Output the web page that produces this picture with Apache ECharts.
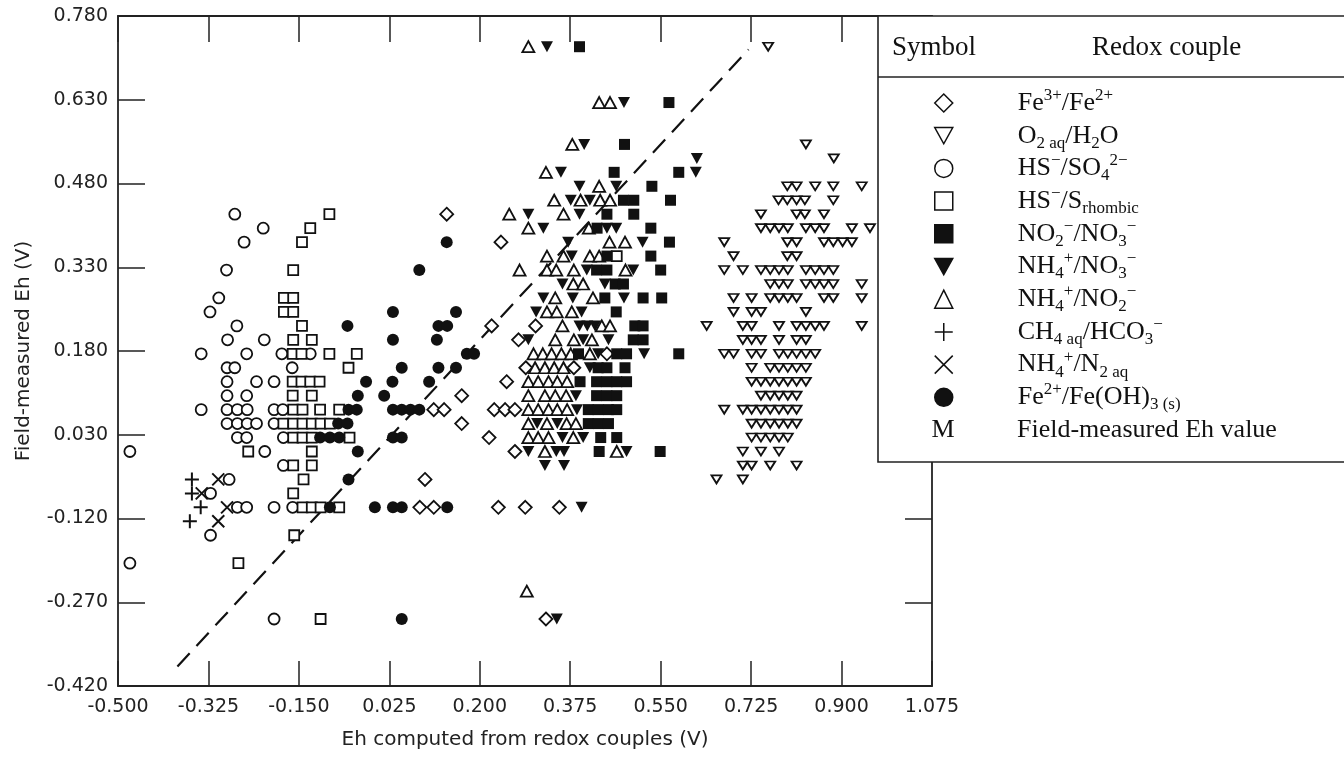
<!DOCTYPE html>
<html>
<head>
<meta charset="utf-8">
<title>Field-measured Eh vs computed Eh</title>
<script src="https://cdn.jsdelivr.net/npm/echarts/dist/echarts.min.js"></script>
<style>
  html, body { margin: 0; padding: 0; background: #fff; }
  #main { width: 1344px; height: 760px; }
</style>
</head>
<body>
<div id="main"></div>
<script>
// axis ranges (V)
var xMin = -0.5, xMax = 1.075, xStep = 0.175
var yMin = -0.42, yMax = 0.78, yStep = 0.15

// 1:1 line
var oneToOne = [[-0.385, -0.385], [0.72, 0.72]]

// Fe3+/Fe2+  (open diamond)
var fe3Fe2 = [[0.136,0.425],[0.241,0.375],[0.223,0.225],[0.308,0.225],[0.275,0.2],[0.446,0.175],[0.289,0.15],[0.382,0.15],
  [0.252,0.125],[0.165,0.1],[0.111,0.075],[0.131,0.075],[0.228,0.075],[0.249,0.075],[0.268,0.075],[0.165,0.05],[0.218,0.025],
  [0.268,0],[0.094,-0.05],[0.084,-0.1],[0.111,-0.1],[0.236,-0.1],[0.288,-0.1],[0.354,-0.1],[0.328,-0.3]]

// O2 aq/H2O  (small open down triangle)
var o2H2o = [[0.758,0.725],[0.831,0.55],[0.885,0.525],
  [0.795,0.475],[0.813,0.475],[0.849,0.475],[0.884,0.475],[0.939,0.475],
  [0.778,0.45],[0.795,0.45],[0.813,0.45],[0.829,0.45],[0.884,0.45],
  [0.744,0.425],[0.813,0.425],[0.829,0.425],[0.866,0.425],
  [0.744,0.4],[0.762,0.4],[0.779,0.4],[0.796,0.4],[0.831,0.4],[0.849,0.4],[0.866,0.4],[0.92,0.4],[0.955,0.4],
  [0.673,0.375],[0.795,0.375],[0.813,0.375],[0.866,0.375],[0.884,0.375],[0.902,0.375],[0.92,0.375],
  [0.691,0.35],[0.795,0.35],[0.813,0.35],
  [0.673,0.325],[0.709,0.325],[0.744,0.325],[0.762,0.325],[0.779,0.325],[0.796,0.325],[0.831,0.325],[0.849,0.325],[0.866,0.325],[0.884,0.325],
  [0.762,0.3],[0.779,0.3],[0.796,0.3],[0.831,0.3],[0.849,0.3],[0.866,0.3],[0.884,0.3],[0.939,0.3],
  [0.691,0.275],[0.726,0.275],[0.762,0.275],[0.779,0.275],[0.796,0.275],[0.813,0.275],[0.866,0.275],[0.884,0.275],[0.939,0.275],
  [0.691,0.25],[0.726,0.25],[0.744,0.25],[0.831,0.25],
  [0.639,0.225],[0.709,0.225],[0.726,0.225],[0.779,0.225],[0.813,0.225],[0.831,0.225],[0.849,0.225],[0.866,0.225],[0.939,0.225],
  [0.709,0.2],[0.726,0.2],[0.744,0.2],[0.779,0.2],[0.813,0.2],[0.831,0.2],
  [0.673,0.175],[0.691,0.175],[0.726,0.175],[0.744,0.175],[0.779,0.175],[0.796,0.175],[0.813,0.175],[0.831,0.175],[0.849,0.175],
  [0.726,0.15],[0.762,0.15],[0.779,0.15],[0.796,0.15],[0.813,0.15],[0.831,0.15],
  [0.726,0.125],[0.744,0.125],[0.762,0.125],[0.779,0.125],[0.796,0.125],[0.813,0.125],[0.831,0.125],
  [0.744,0.1],[0.762,0.1],[0.779,0.1],[0.796,0.1],[0.813,0.1],
  [0.673,0.075],[0.709,0.075],[0.726,0.075],[0.744,0.075],[0.762,0.075],[0.779,0.075],[0.796,0.075],[0.813,0.075],
  [0.726,0.05],[0.744,0.05],[0.762,0.05],[0.779,0.05],[0.796,0.05],[0.813,0.05],
  [0.726,0.025],[0.744,0.025],[0.762,0.025],[0.779,0.025],[0.796,0.025],
  [0.709,0],[0.744,0],[0.779,0],
  [0.709,-0.025],[0.726,-0.025],[0.762,-0.025],[0.813,-0.025],
  [0.658,-0.05],[0.709,-0.05]]

// HS-/SO4 2-  (open circle)
var hsSo4 = [[-0.274,0.425],[-0.219,0.4],[-0.256,0.375],[-0.29,0.325],[-0.305,0.275],[-0.322,0.25],[-0.27,0.225],[-0.288,0.2],[-0.217,0.2],
  [-0.339,0.175],[-0.251,0.175],[-0.183,0.175],[-0.128,0.175],
  [-0.289,0.15],[-0.274,0.15],[-0.163,0.15],
  [-0.289,0.125],[-0.232,0.125],[-0.198,0.125],
  [-0.289,0.1],[-0.251,0.1],
  [-0.339,0.075],[-0.289,0.075],[-0.269,0.075],[-0.25,0.075],[-0.198,0.075],[-0.181,0.075],
  [-0.289,0.05],[-0.269,0.05],[-0.25,0.05],[-0.232,0.05],[-0.198,0.05],
  [-0.269,0.025],[-0.251,0.025],[-0.18,0.025],
  [-0.477,0],[-0.216,0],[-0.18,-0.025],[-0.285,-0.05],[-0.321,-0.075],
  [-0.269,-0.1],[-0.251,-0.1],[-0.198,-0.1],[-0.162,-0.1],
  [-0.321,-0.15],[-0.477,-0.2],[-0.198,-0.3]]

// HS-/S rhombic  (open square)
var hsS = [[-0.091,0.425],[-0.128,0.4],[-0.144,0.375],[-0.161,0.325],[-0.179,0.275],[-0.161,0.275],[-0.179,0.25],[-0.161,0.25],
  [-0.144,0.225],[-0.161,0.2],[-0.125,0.2],
  [-0.162,0.175],[-0.145,0.175],[-0.091,0.175],[-0.038,0.175],[-0.054,0.15],
  [-0.162,0.125],[-0.145,0.125],[-0.128,0.125],[-0.11,0.125],
  [-0.162,0.1],[-0.125,0.1],
  [-0.161,0.075],[-0.143,0.075],[-0.109,0.075],[-0.072,0.075],
  [-0.18,0.05],[-0.161,0.05],[-0.143,0.05],[-0.125,0.05],[-0.108,0.05],[-0.09,0.05],
  [-0.161,0.025],[-0.143,0.025],[-0.125,0.025],[-0.052,0.025],
  [-0.248,0],[-0.125,0],[-0.161,-0.025],[-0.125,-0.025],[-0.141,-0.05],[-0.161,-0.075],
  [-0.143,-0.1],[-0.125,-0.1],[-0.108,-0.1],[-0.072,-0.1],
  [-0.159,-0.15],[-0.267,-0.2],[-0.108,-0.3],[0.465,0.35]]

// NO2-/NO3-  (filled square)
var no2No3 = [[0.393,0.725],[0.566,0.625],[0.48,0.55],[0.46,0.5],[0.585,0.5],[0.533,0.475],[0.478,0.45],[0.498,0.45],[0.569,0.45],
  [0.446,0.425],[0.498,0.425],[0.427,0.4],[0.531,0.4],[0.567,0.375],[0.446,0.35],[0.531,0.35],[0.426,0.325],[0.446,0.325],[0.55,0.325],
  [0.462,0.3],[0.478,0.3],[0.442,0.275],[0.516,0.275],[0.552,0.275],[0.464,0.25],[0.5,0.225],[0.516,0.225],[0.497,0.2],[0.516,0.2],
  [0.391,0.175],[0.465,0.175],[0.484,0.175],[0.585,0.175],[0.429,0.15],[0.446,0.15],[0.481,0.15],
  [0.394,0.125],[0.426,0.125],[0.446,0.125],[0.465,0.125],[0.484,0.125],
  [0.426,0.1],[0.446,0.1],[0.465,0.1],
  [0.41,0.075],[0.429,0.075],[0.449,0.075],[0.465,0.075],
  [0.41,0.05],[0.429,0.05],[0.449,0.05],
  [0.434,0.025],[0.465,0.025],[0.431,0],[0.549,0]]

// NH4+/NO3-  (filled down triangle)
var nh4No3 = [[0.33,0.725],[0.479,0.625],[0.402,0.55],[0.62,0.525],[0.357,0.5],[0.618,0.5],[0.393,0.475],[0.464,0.475],
  [0.376,0.45],[0.413,0.45],[0.294,0.425],[0.393,0.425],[0.323,0.4],[0.446,0.4],[0.464,0.4],[0.371,0.375],[0.515,0.375],
  [0.378,0.35],[0.407,0.325],[0.497,0.325],[0.36,0.3],[0.442,0.3],[0.323,0.275],[0.38,0.275],[0.479,0.275],
  [0.309,0.25],[0.397,0.25],[0.393,0.225],[0.408,0.225],[0.423,0.225],[0.294,0.2],[0.4,0.2],[0.449,0.2],
  [0.429,0.175],[0.518,0.175],[0.413,0.15],[0.386,0.1],[0.388,0.075],[0.311,0.05],[0.35,0.05],
  [0.36,0.025],[0.4,0.025],[0.294,0],[0.348,0],[0.363,0],[0.484,0],[0.326,-0.025],[0.363,-0.025],
  [0.397,-0.1],[0.349,-0.3]]

// NH4+/NO2-  (open up triangle)
var nh4No2 = [[0.294,0.725],[0.431,0.625],[0.452,0.625],[0.379,0.55],[0.328,0.5],[0.431,0.475],
  [0.344,0.45],[0.395,0.45],[0.433,0.45],[0.452,0.45],[0.257,0.425],[0.362,0.425],[0.294,0.4],[0.411,0.4],
  [0.451,0.375],[0.481,0.375],[0.33,0.35],[0.362,0.35],[0.413,0.35],[0.431,0.35],
  [0.277,0.325],[0.33,0.325],[0.348,0.325],[0.382,0.325],[0.482,0.325],[0.381,0.3],[0.4,0.3],
  [0.346,0.275],[0.419,0.275],[0.33,0.25],[0.349,0.25],[0.378,0.25],[0.36,0.225],[0.436,0.225],[0.452,0.225],
  [0.346,0.2],[0.382,0.2],[0.417,0.2],
  [0.304,0.175],[0.322,0.175],[0.339,0.175],[0.358,0.175],[0.376,0.175],[0.413,0.175],
  [0.307,0.15],[0.326,0.15],[0.344,0.15],[0.362,0.15],
  [0.294,0.125],[0.313,0.125],[0.333,0.125],[0.35,0.125],[0.369,0.125],
  [0.294,0.1],[0.326,0.1],[0.346,0.1],[0.367,0.1],
  [0.294,0.075],[0.313,0.075],[0.333,0.075],[0.35,0.075],[0.369,0.075],
  [0.294,0.05],[0.33,0.05],[0.368,0.05],[0.386,0.05],
  [0.294,0.025],[0.313,0.025],[0.333,0.025],[0.381,0.025],
  [0.326,0],[0.465,0],[0.291,-0.25]]

// CH4 aq/HCO3-  (+)
var ch4Hco3 = [[-0.357,-0.05],[-0.357,-0.075],[-0.34,-0.1],[-0.361,-0.125]]

// NH4+/N2 aq  (x)
var nh4N2 = [[-0.306,-0.05],[-0.338,-0.075],[-0.289,-0.1],[-0.306,-0.125]]

// Fe2+/Fe(OH)3 (s)  (filled circle)
var fe2FeOH3 = [[0.136,0.375],[0.083,0.325],[0.032,0.25],[0.154,0.25],[-0.056,0.225],[0.12,0.225],[0.137,0.225],
  [0.032,0.2],[0.117,0.2],[0.175,0.175],[0.189,0.175],[0.049,0.15],[0.12,0.15],[0.154,0.15],
  [-0.02,0.125],[0.031,0.125],[0.102,0.125],[-0.036,0.1],[0.015,0.1],
  [-0.054,0.075],[-0.038,0.075],[0.032,0.075],[0.049,0.075],[0.066,0.075],[0.083,0.075],
  [-0.074,0.05],[-0.056,0.05],[-0.109,0.025],[-0.09,0.025],[-0.072,0.025],[0.032,0.025],[0.049,0.025],
  [-0.036,0],[-0.054,-0.05],[-0.09,-0.1],[-0.003,-0.1],[0.032,-0.1],[0.049,-0.1],[0.137,-0.1],[0.049,-0.3]]

var ink = '#111'
var serif = '"Liberation Serif", "DejaVu Serif", serif'
var sans = '"DejaVu Sans", "Liberation Sans", sans-serif'

// down-pointing triangle as a path so the legend icon points the same way
var downTri = 'path://M0,0L10,0L5,9Z'

// legend names and how they are typeset (sub / superscripts)
var names = ['Fe3+/Fe2+', 'O2 aq/H2O', 'HS-/SO4 2-', 'HS-/S rhombic', 'NO2-/NO3-',
  'NH4+/NO3-', 'NH4+/NO2-', 'CH4 aq/HCO3-', 'NH4+/N2 aq', 'Fe2+/Fe(OH)3 (s)']
var pretty = {
  'Fe3+/Fe2+': '{n|Fe}{p|3+}{n|/Fe}{p|2+}',
  'O2 aq/H2O': '{n|O}{b|2 aq}{n|/H}{b|2}{n|O}',
  'HS-/SO4 2-': '{n|HS}{p|−}{n|/SO}{b|4}{p|2−}',
  'HS-/S rhombic': '{n|HS}{p|−}{n|/S}{b|rhombic}',
  'NO2-/NO3-': '{n|NO}{b|2}{p|−}{n|/NO}{b|3}{p|−}',
  'NH4+/NO3-': '{n|NH}{b|4}{p|+}{n|/NO}{b|3}{p|−}',
  'NH4+/NO2-': '{n|NH}{b|4}{p|+}{n|/NO}{b|2}{p|−}',
  'CH4 aq/HCO3-': '{n|CH}{b|4 aq}{n|/HCO}{b|3}{p|−}',
  'NH4+/N2 aq': '{n|NH}{b|4}{p|+}{n|/N}{b|2 aq}',
  'Fe2+/Fe(OH)3 (s)': '{n|Fe}{p|2+}{n|/Fe(OH)}{b|3 (s)}'
}

function open(name, data, symbol, size) {
  return {
    name: name, type: 'scatter', data: data, symbol: symbol, symbolSize: size,
    itemStyle: { color: '#fff', borderColor: ink, borderWidth: 1.8, opacity: 1 },
    emphasis: { disabled: true }, z: 3
  }
}
function filled(name, data, symbol, size) {
  return {
    name: name, type: 'scatter', data: data, symbol: symbol, symbolSize: size,
    itemStyle: { color: ink, borderColor: ink, borderWidth: 0, opacity: 1 },
    emphasis: { disabled: true }, z: 4
  }
}
function stroke(name, data, path, size) {
  return {
    name: name, type: 'scatter', data: data, symbol: path, symbolSize: size,
    itemStyle: { color: 'rgba(0,0,0,0)', borderColor: ink, borderWidth: 2, opacity: 1 },
    emphasis: { disabled: true }, z: 4
  }
}

var series = [
  {
    name: '1:1', type: 'line', data: oneToOne, symbol: 'none', silent: true, z: 1,
    lineStyle: { color: ink, width: 2.2, type: [18, 10] }
  },
  open(names[0], fe3Fe2, 'diamond', [13, 13]),
  open(names[1], o2H2o, downTri, [10, 8]),
  open(names[2], hsSo4, 'circle', 11),
  open(names[3], hsS, 'rect', 10),
  filled(names[4], no2No3, 'rect', 11),
  filled(names[5], nh4No3, downTri, [12, 11]),
  open(names[6], nh4No2, 'triangle', [12, 11]),
  stroke(names[7], ch4Hco3, 'path://M5,0L5,10M0,5L10,5', 14),
  stroke(names[8], nh4N2, 'path://M0,0L10,10M10,0L0,10', 12),
  filled(names[9], fe2FeOH3, 'circle', 12)
]

function fmt(v) { return v.toFixed(3) }

var axisLine = { show: true, onZero: false, lineStyle: { color: '#222', width: 1.8 } }
var tick = function (len) { return { show: true, inside: true, length: len, lineStyle: { color: '#222', width: 1.5 } } }

var chart = echarts.init(document.getElementById('main'))
chart.setOption({
  backgroundColor: '#fff',
  animation: false,
  grid: { left: 118, right: 412, top: 16, bottom: 74, outerBoundsMode: 'none' },
  xAxis: [{
    type: 'value', min: xMin, max: xMax, interval: xStep, position: 'bottom',
    axisLine: axisLine, axisTick: tick(25), splitLine: { show: false },
    axisLabel: { formatter: fmt, fontFamily: sans, fontSize: 19, color: '#222', margin: 12, showMinLabel: true, showMaxLabel: true },
    name: 'Eh computed from redox couples (V)', nameLocation: 'middle', nameGap: 44,
    nameTextStyle: { fontFamily: sans, fontSize: 20, color: '#222' }
  }, {
    type: 'value', min: xMin, max: xMax, interval: xStep, position: 'top',
    axisLine: axisLine, axisTick: tick(26), axisLabel: { show: false }, splitLine: { show: false }
  }],
  yAxis: [{
    type: 'value', min: yMin, max: yMax, interval: yStep, position: 'left',
    axisLine: axisLine, axisTick: tick(27), splitLine: { show: false },
    axisLabel: { formatter: fmt, fontFamily: sans, fontSize: 19, color: '#222', margin: 10, showMinLabel: true, showMaxLabel: true },
    name: 'Field-measured Eh (V)', nameLocation: 'middle', nameGap: 84, nameRotate: 90,
    nameTextStyle: { fontFamily: sans, fontSize: 20, color: '#222' }
  }, {
    type: 'value', min: yMin, max: yMax, interval: yStep, position: 'right',
    axisLine: axisLine, axisTick: tick(27), axisLabel: { show: false }, splitLine: { show: false }
  }],
  legend: {
    data: names, orient: 'vertical', left: 934, top: 87, padding: 0,
    itemWidth: 18, itemHeight: 18, itemGap: 0.7, selectedMode: false,
    itemStyle: { borderWidth: 1.5 },
    formatter: function (name) { return '{g| }' + pretty[name] },
    textStyle: {
      color: ink, fontFamily: serif, fontSize: 26, lineHeight: 32,
      rich: {
        g: { width: 60, fontSize: 26, lineHeight: 32, fontFamily: serif },
        n: { fontSize: 26, lineHeight: 32, fontFamily: serif, color: ink },
        b: { fontSize: 17, lineHeight: 14, verticalAlign: 'bottom', fontFamily: serif, color: ink },
        p: { fontSize: 17, lineHeight: 20, verticalAlign: 'top', fontFamily: serif, color: ink }
      }
    }
  },
  // the symbol table box sits over the plot's top-right corner
  graphic: [
    { type: 'rect', z: 3, shape: { x: 878, y: 16, width: 480, height: 446 }, style: { fill: '#fff', stroke: '#222', lineWidth: 1.6 } },
    { type: 'line', z: 5, shape: { x1: 878, y1: 77, x2: 1344, y2: 77 }, style: { stroke: '#222', lineWidth: 1.4 } },
    { type: 'text', z: 5, x: 892, y: 48, style: { text: 'Symbol', font: '27px ' + serif, fill: ink, textVerticalAlign: 'middle' } },
    { type: 'text', z: 5, x: 1092, y: 48, style: { text: 'Redox couple', font: '27px ' + serif, fill: ink, textVerticalAlign: 'middle' } },
    { type: 'text', z: 5, x: 943, y: 430, style: { text: 'M', font: '26px ' + serif, fill: ink, textAlign: 'center', textVerticalAlign: 'middle' } },
    { type: 'text', z: 5, x: 1017, y: 430, style: { text: 'Field-measured Eh value', font: '26px ' + serif, fill: ink, textVerticalAlign: 'middle' } }
  ],
  series: series
})
</script>
</body>
</html>
